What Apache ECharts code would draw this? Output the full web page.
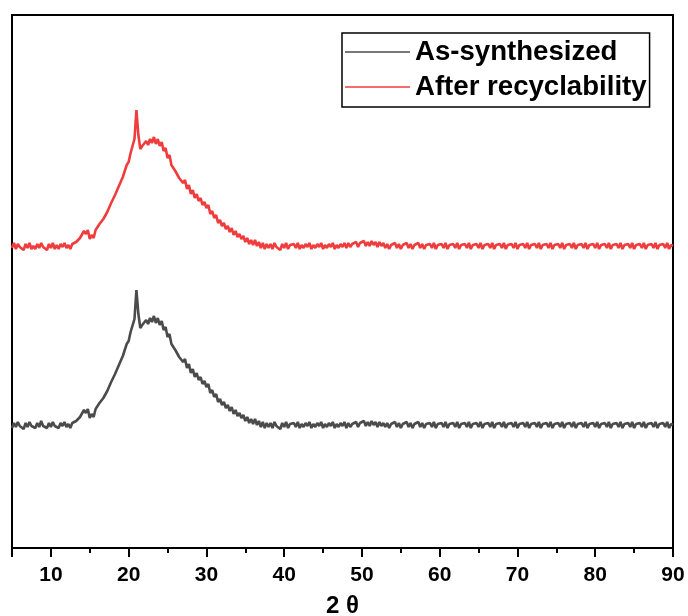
<!DOCTYPE html>
<html>
<head>
<meta charset="utf-8">
<script src="https://cdn.jsdelivr.net/npm/echarts@6/dist/echarts.min.js"></script>
<style>
  html, body { margin: 0; padding: 0; background: #ffffff; }
  #chart { width: 688px; height: 616px; }
</style>
</head>
<body>
<div id="chart"></div>
<script>
// Diffraction angle (2θ, degrees), sampled every 0.25°
const twoTheta = [
  5, 5.25, 5.5, 5.75, 6, 6.25, 6.5, 6.75, 7, 7.25, 7.5, 7.75, 8, 8.25, 8.5, 8.75,
  9, 9.25, 9.5, 9.75, 10, 10.25, 10.5, 10.75, 11, 11.25, 11.5, 11.75, 12, 12.25, 12.5, 12.75,
  13, 13.25, 13.5, 13.75, 14, 14.25, 14.5, 14.75, 15, 15.25, 15.5, 15.75, 16, 16.25, 16.5, 16.75,
  17, 17.25, 17.5, 17.75, 18, 18.25, 18.5, 18.75, 19, 19.25, 19.5, 19.75, 20, 20.25, 20.5, 20.75,
  21, 21.25, 21.5, 21.75, 22, 22.25, 22.5, 22.75, 23, 23.25, 23.5, 23.75, 24, 24.25, 24.5, 24.75,
  25, 25.25, 25.5, 25.75, 26, 26.25, 26.5, 26.75, 27, 27.25, 27.5, 27.75, 28, 28.25, 28.5, 28.75,
  29, 29.25, 29.5, 29.75, 30, 30.25, 30.5, 30.75, 31, 31.25, 31.5, 31.75, 32, 32.25, 32.5, 32.75,
  33, 33.25, 33.5, 33.75, 34, 34.25, 34.5, 34.75, 35, 35.25, 35.5, 35.75, 36, 36.25, 36.5, 36.75,
  37, 37.25, 37.5, 37.75, 38, 38.25, 38.5, 38.75, 39, 39.25, 39.5, 39.75, 40, 40.25, 40.5, 40.75,
  41, 41.25, 41.5, 41.75, 42, 42.25, 42.5, 42.75, 43, 43.25, 43.5, 43.75, 44, 44.25, 44.5, 44.75,
  45, 45.25, 45.5, 45.75, 46, 46.25, 46.5, 46.75, 47, 47.25, 47.5, 47.75, 48, 48.25, 48.5, 48.75,
  49, 49.25, 49.5, 49.75, 50, 50.25, 50.5, 50.75, 51, 51.25, 51.5, 51.75, 52, 52.25, 52.5, 52.75,
  53, 53.25, 53.5, 53.75, 54, 54.25, 54.5, 54.75, 55, 55.25, 55.5, 55.75, 56, 56.25, 56.5, 56.75,
  57, 57.25, 57.5, 57.75, 58, 58.25, 58.5, 58.75, 59, 59.25, 59.5, 59.75, 60, 60.25, 60.5, 60.75,
  61, 61.25, 61.5, 61.75, 62, 62.25, 62.5, 62.75, 63, 63.25, 63.5, 63.75, 64, 64.25, 64.5, 64.75,
  65, 65.25, 65.5, 65.75, 66, 66.25, 66.5, 66.75, 67, 67.25, 67.5, 67.75, 68, 68.25, 68.5, 68.75,
  69, 69.25, 69.5, 69.75, 70, 70.25, 70.5, 70.75, 71, 71.25, 71.5, 71.75, 72, 72.25, 72.5, 72.75,
  73, 73.25, 73.5, 73.75, 74, 74.25, 74.5, 74.75, 75, 75.25, 75.5, 75.75, 76, 76.25, 76.5, 76.75,
  77, 77.25, 77.5, 77.75, 78, 78.25, 78.5, 78.75, 79, 79.25, 79.5, 79.75, 80, 80.25, 80.5, 80.75,
  81, 81.25, 81.5, 81.75, 82, 82.25, 82.5, 82.75, 83, 83.25, 83.5, 83.75, 84, 84.25, 84.5, 84.75,
  85, 85.25, 85.5, 85.75, 86, 86.25, 86.5, 86.75, 87, 87.25, 87.5, 87.75, 88, 88.25, 88.5, 88.75,
  89, 89.25, 89.5, 89.75, 90
];

// Intensity (a.u.) of the as-synthesized sample, four readings per degree
const asSynthesized = [
  120, 125, 121, 126,  122, 124, 119, 125,  121, 126, 122, 123,  120, 125, 121, 127,   // 5–8
  122, 124, 120, 125,  121, 126, 122, 124,  120, 125, 122, 126,  121, 124, 120, 125,   // 9–12
  124, 127, 126, 131,  131, 138, 135, 139,  130, 134, 131, 139,  139, 145, 144, 150,   // 13–16
  150, 157, 158, 166,  166, 174, 173, 183,  182, 192, 194, 204,  207, 216, 217, 229,   // 17–20
  258, 234, 220, 223,  222, 228, 224, 230,  226, 232, 225, 230,  223, 227, 218, 221,   // 21–24
  211, 214, 204, 206,  198, 200, 191, 193,  186, 189, 180, 184,  175, 179, 171, 175,   // 25–28
  168, 171, 164, 167,  161, 164, 155, 158,  151, 154, 146, 149,  143, 146, 140, 143,   // 29–32
  137, 141, 134, 138,  132, 135, 130, 133,  127, 131, 125, 129,  124, 129, 123, 127,   // 33–36
  121, 126, 120, 125,  121, 125, 120, 126,  122, 124, 119, 125,  121, 126, 120, 124,   // 37–40
  122, 125, 121, 126,  120, 124, 121, 125,  122, 126, 120, 124,  121, 125, 122, 126,   // 41–44
  120, 124, 121, 125,  122, 126, 120, 124,  121, 125, 122, 126,  120, 125, 121, 124,   // 45–48
  122, 126, 121, 125,  123, 127, 122, 126,  122, 127, 123, 126,  121, 126, 122, 125,   // 49–52
  121, 125, 120, 124,  122, 126, 121, 125,  120, 124, 122, 126,  121, 125, 120, 124,   // 53–56
  122, 126, 121, 125,  120, 124, 122, 125,  121, 126, 120, 124,  122, 125, 121, 126,   // 57–60
  120, 124, 122, 125,  121, 126, 120, 124,  122, 125, 121, 126,  120, 124, 122, 125,   // 61–64
  121, 126, 120, 124,  122, 125, 121, 126,  120, 124, 122, 125,  121, 126, 120, 124,   // 65–68
  122, 125, 121, 126,  120, 124, 122, 125,  121, 126, 120, 124,  122, 125, 121, 126,   // 69–72
  120, 124, 122, 125,  121, 126, 120, 124,  122, 125, 121, 126,  120, 124, 122, 125,   // 73–76
  121, 126, 120, 124,  122, 125, 121, 126,  120, 124, 122, 125,  121, 126, 120, 124,   // 77–80
  122, 125, 121, 126,  120, 124, 122, 125,  121, 126, 120, 124,  122, 125, 121, 126,   // 81–84
  120, 124, 122, 125,  121, 126, 120, 124,  122, 125, 121, 126,  120, 124, 122, 125,   // 85–88
  121, 126, 120, 124,  123                                                              // 89–90
];

// Intensity (a.u.) of the sample after the recycling runs
const afterRecyclability = [
  122, 127, 121, 126,  123, 125, 120, 126,  122, 127, 121, 124,  121, 126, 122, 127,   // 5–8
  123, 125, 120, 126,  122, 127, 121, 125,  121, 126, 123, 127,  122, 125, 121, 126,   // 9–12
  125, 128, 127, 132,  132, 139, 136, 140,  131, 135, 132, 140,  140, 146, 145, 151,   // 13–16
  151, 158, 159, 167,  167, 175, 174, 184,  183, 193, 195, 205,  208, 217, 218, 231,   // 17–20
  260, 235, 221, 224,  223, 229, 225, 231,  227, 233, 226, 231,  224, 228, 219, 222,   // 21–24
  212, 215, 205, 207,  199, 201, 192, 194,  187, 190, 181, 185,  176, 180, 172, 176,   // 25–28
  169, 172, 165, 168,  162, 165, 156, 159,  152, 155, 147, 150,  144, 147, 141, 144,   // 29–32
  138, 142, 135, 139,  133, 136, 131, 134,  128, 132, 126, 130,  125, 130, 124, 128,   // 33–36
  122, 127, 121, 126,  122, 126, 121, 127,  123, 125, 120, 126,  122, 127, 121, 125,   // 37–40
  123, 126, 122, 127,  121, 125, 122, 126,  123, 127, 121, 125,  122, 126, 123, 127,   // 41–44
  121, 125, 122, 126,  123, 127, 121, 125,  122, 126, 123, 127,  122, 127, 123, 126,   // 45–48
  124, 128, 123, 127,  125, 129, 124, 128,  124, 129, 125, 128,  123, 128, 124, 127,   // 49–52
  122, 126, 121, 125,  123, 127, 122, 126,  121, 125, 123, 127,  122, 126, 121, 125,   // 53–56
  123, 127, 122, 126,  121, 125, 123, 126,  122, 127, 121, 125,  123, 126, 122, 127,   // 57–60
  121, 125, 123, 126,  122, 127, 121, 125,  123, 126, 122, 127,  121, 125, 123, 126,   // 61–64
  122, 127, 121, 125,  123, 126, 122, 127,  121, 125, 123, 126,  122, 127, 121, 125,   // 65–68
  123, 126, 122, 127,  121, 125, 123, 126,  122, 127, 121, 125,  123, 126, 122, 127,   // 69–72
  121, 125, 123, 126,  122, 127, 121, 125,  123, 126, 122, 127,  121, 125, 123, 126,   // 73–76
  122, 127, 121, 125,  123, 126, 122, 127,  121, 125, 123, 126,  122, 127, 121, 125,   // 77–80
  123, 126, 122, 127,  121, 125, 123, 126,  122, 127, 121, 125,  123, 126, 122, 127,   // 81–84
  121, 125, 123, 126,  122, 127, 121, 125,  123, 126, 122, 127,  121, 125, 123, 126,   // 85–88
  122, 127, 121, 125,  124                                                              // 89–90
];

const seriesNames = ['As-synthesized', 'After recyclability'];

// Upper pattern is shifted up so the two traces are stacked
const stackOffset = 178;

const pairs = (ys, shift) => twoTheta.map((x, i) => [x, ys[i] + shift]);

const FONT = '"Liberation Sans", Arial, Helvetica, sans-serif';

const chart = echarts.init(document.getElementById('chart'), null, { renderer: 'canvas' });

chart.setOption({
  animation: false,
  backgroundColor: '#ffffff',
  grid: {
    left: 12, right: 15, top: 15, bottom: 68,
    show: true, borderColor: '#000000', borderWidth: 2,
    containLabel: false,
    outerBoundsMode: 'none'
  },
  legend: {
    orient: 'vertical',
    left: 342, top: 33,
    padding: [4, 3, 5, 3],
    itemGap: 5,
    itemWidth: 65,
    itemHeight: 1.5,
    icon: 'rect',
    borderColor: '#000000',
    borderWidth: 1.5,
    textStyle: {
      color: '#000000', fontFamily: FONT, fontWeight: 'bold',
      fontSize: 27.6, lineHeight: 30
    },
    data: seriesNames
  },
  xAxis: [
    {
      // labelled long ticks every 10°, short ticks halfway between
      type: 'value', min: 5, max: 90, splitNumber: 8, position: 'bottom',
      axisLine: { show: true, onZero: false, lineStyle: { color: '#000000', width: 2 } },
      axisTick: { show: true, inside: false, length: 9,
                  lineStyle: { color: '#000000', width: 2 } },
      axisLabel: { show: true, showMinLabel: false, margin: 17,
                   color: '#000000', fontFamily: FONT, fontWeight: 'bold', fontSize: 21 },
      minorTick: { show: true, splitNumber: 2, length: 5,
                   lineStyle: { color: '#000000', width: 2 } },
      splitLine: { show: false },
      name: '2 θ', nameLocation: 'middle', nameGap: 46,
      nameTextStyle: { color: '#000000', fontFamily: FONT, fontWeight: 'bold', fontSize: 24 }
    }
  ],
  yAxis: {
    type: 'value', min: 0, max: 533,
    axisLine: { show: true, onZero: false, lineStyle: { color: '#000000', width: 2 } },
    axisTick: { show: false },
    axisLabel: { show: false },
    splitLine: { show: false }
  },
  series: [
    {
      name: seriesNames[0], type: 'line',
      data: pairs(asSynthesized, 0),
      showSymbol: false, symbol: 'none',
      lineStyle: { color: '#4b4b4b', width: 2.6 },
      itemStyle: { color: '#4b4b4b' }
    },
    {
      name: seriesNames[1], type: 'line',
      data: pairs(afterRecyclability, stackOffset),
      showSymbol: false, symbol: 'none',
      lineStyle: { color: '#ef3d3d', width: 2.6 },
      itemStyle: { color: '#ef3d3d' }
    }
  ]
});
</script>
</body>
</html>
